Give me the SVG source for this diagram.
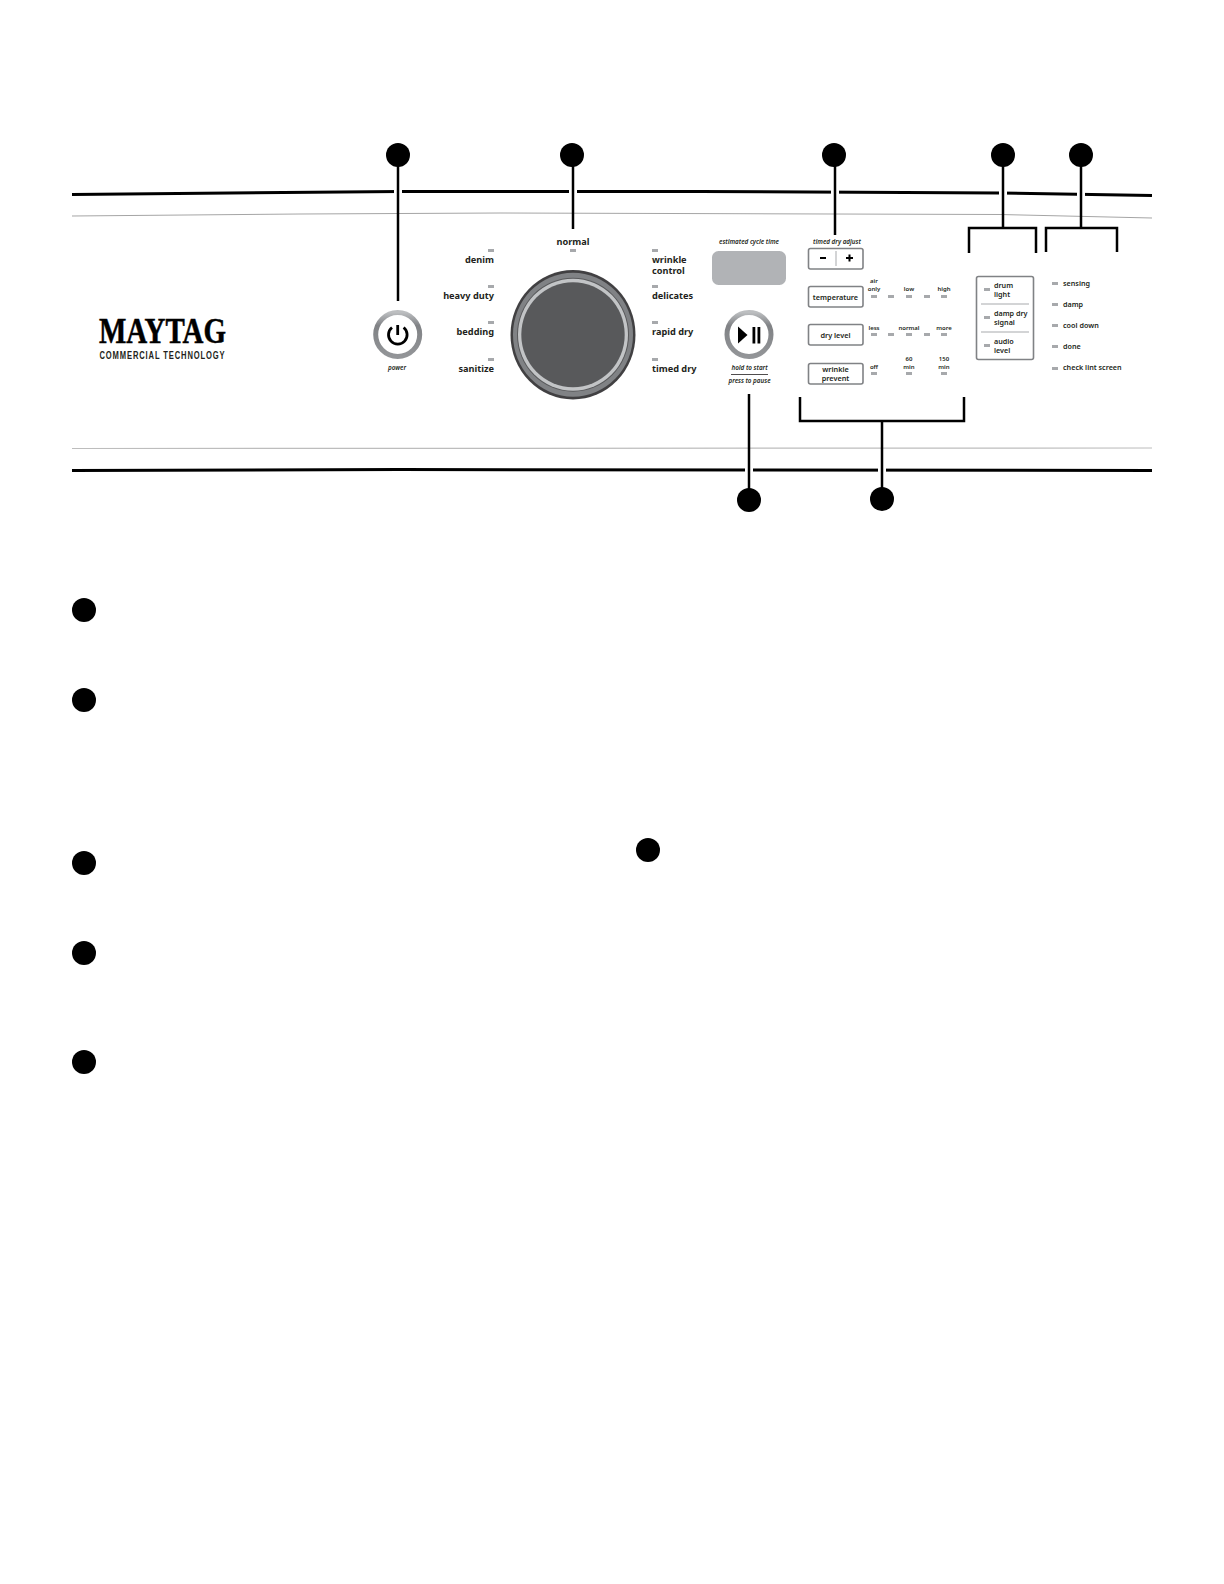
<svg xmlns="http://www.w3.org/2000/svg" width="1224" height="1584" viewBox="0 0 1224 1584">
<style>
text{font-family:"Noto Sans","Open Sans","Liberation Sans",sans-serif;fill:#231f20}
.p{font-size:9.2px;font-weight:700}
.s{font-size:7.3px;font-weight:600}
.t{font-size:6px;font-weight:600}
.o{font-size:7.2px;font-weight:600}
.i{font-size:6.3px;font-style:italic;font-weight:600;text-anchor:middle}
.m{text-anchor:middle}
.e{text-anchor:end}
.led{fill:#a7a9ac}
.btn{fill:#fff;stroke:#808285;stroke-width:1.6}
.lead{fill:none;stroke:#000;stroke-width:2.5}
.gap{fill:none;stroke:#fff;stroke-width:8}
.dot{fill:#000}
</style>
<defs>
<linearGradient id="ring" x1="0" y1="0" x2="0" y2="1"><stop offset="0" stop-color="#bcbec0"/><stop offset=".3" stop-color="#808285"/><stop offset="1" stop-color="#939598"/></linearGradient>
</defs>
<g id="panel">
<path d="M72 194.500L400 191.500L700 191.500L1000 193L1152 195.500" fill="none" stroke="#000" stroke-width="3"/>
<path d="M72 216L300 214L500 213L1000 214.500L1152 218" fill="none" stroke="#a5a5a5" stroke-width="1"/>
<path d="M72 448.500L1152 448" fill="none" stroke="#bdbdbd" stroke-width="1.200"/>
<path d="M72 470.500L400 469.500L1152 470.500" fill="none" stroke="#000" stroke-width="3"/>
</g>
<g id="connectors">
<path class="gap" d="M398 186V198M573 186V198M835 186V198M1003 186V198M1081 186V198M749 465V475M882 465V475"/>
<path class="lead" d="M398 155V301"/>
<path class="lead" d="M573 155V229"/>
<path class="lead" d="M835 155V235"/>
<path class="lead" d="M1003 155V228M969 253V228H1036V253"/>
<path class="lead" d="M1081 155V228M1046 252V228H1117V252"/>
<path class="lead" d="M749 394V500"/>
<path class="lead" d="M882 499V421M800 397V421H964V397"/>
</g>
<g id="badges">
<circle class="dot" cx="398" cy="155" r="12"/>
<circle class="dot" cx="572" cy="155" r="12"/>
<circle class="dot" cx="834" cy="155" r="12"/>
<circle class="dot" cx="1003" cy="155" r="12"/>
<circle class="dot" cx="1081" cy="155" r="12"/>
<circle class="dot" cx="749" cy="500" r="12"/>
<circle class="dot" cx="882" cy="499" r="12"/>
<circle class="dot" cx="84" cy="610" r="12"/>
<circle class="dot" cx="84" cy="700" r="12"/>
<circle class="dot" cx="84" cy="863" r="12"/>
<circle class="dot" cx="84" cy="953" r="12"/>
<circle class="dot" cx="84" cy="1062" r="12"/>
<circle class="dot" cx="648" cy="850" r="12"/>
</g>
<g id="logo">
<text x="99" y="343" textLength="127" lengthAdjust="spacingAndGlyphs" style="font-family:'Liberation Serif',serif;font-size:35px;font-weight:700;fill:#000;stroke:#000;stroke-width:.5">MAYTAG</text>
<text x="99.500" y="359" textLength="126" lengthAdjust="spacingAndGlyphs" style="font-family:'Liberation Sans',sans-serif;font-size:10.500px;font-weight:700;letter-spacing:1.200px">COMMERCIAL TECHNOLOGY</text>
</g>
<g id="power">
<circle cx="397.700" cy="334.500" r="22" fill="#fff" stroke="url(#ring)" stroke-width="5"/>
<path d="M392 327.500A9.300 9.300 0 1 0 403.600 327.500" fill="none" stroke="#000" stroke-width="2.800"/>
<path d="M397.700 325V335" stroke="#000" stroke-width="2.800"/>
<text class="i" x="397" y="370">power</text>
</g>
<g id="dial">
<ellipse cx="573" cy="334.700" rx="62.500" ry="64.700" fill="#414042"/>
<ellipse cx="573" cy="334.700" rx="60" ry="62" fill="#808285"/>
<ellipse cx="573" cy="334.700" rx="56" ry="57" fill="#58595b"/>
<ellipse cx="573" cy="334.700" rx="55" ry="56" fill="#c2c4c6"/>
<ellipse cx="573" cy="334.700" rx="51.700" ry="52.500" fill="#58595b"/>
</g>
<g id="cycles">
<g class="led">
<rect x="488" y="249" width="6" height="3"/><rect x="488" y="285" width="6" height="3"/><rect x="488" y="321" width="6" height="3"/><rect x="488" y="358" width="6" height="3"/>
<rect x="570" y="249" width="6" height="3"/>
<rect x="652" y="249" width="6" height="3"/><rect x="652" y="285" width="6" height="3"/><rect x="652" y="321" width="6" height="3"/><rect x="652" y="358" width="6" height="3"/>
</g>
<text class="p e" x="494" y="263">denim</text>
<text class="p e" x="494" y="299">heavy duty</text>
<text class="p e" x="494" y="335">bedding</text>
<text class="p e" x="494" y="372">sanitize</text>
<text class="p m" x="573" y="245">normal</text>
<text class="p" x="652" y="263">wrinkle</text>
<text class="p" x="652" y="274">control</text>
<text class="p" x="652" y="299">delicates</text>
<text class="p" x="652" y="335">rapid dry</text>
<text class="p" x="652" y="372">timed dry</text>
</g>
<g id="display">
<text class="i" x="749" y="244">estimated cycle time</text>
<rect x="712" y="251" width="74" height="34" rx="6.500" fill="#b1b3b6"/>
</g>
<g id="start">
<circle cx="749" cy="334.500" r="22" fill="#fff" stroke="url(#ring)" stroke-width="5"/>
<path d="M738 326.500L747.500 335L738 343.500Z" fill="#000"/>
<rect x="752.500" y="327" width="2.800" height="16.500" fill="#000"/>
<rect x="757.500" y="327" width="2.800" height="16.500" fill="#000"/>
<text class="i" x="749.500" y="370">hold to start</text>
<path d="M731 374.500H768" stroke="#231f20" stroke-width=".8"/>
<text class="i" x="749.500" y="383">press to pause</text>
</g>
<g id="timed-dry-adjust">
<text class="i" x="837" y="244">timed dry adjust</text>
<rect class="btn" x="808.500" y="248.500" width="54.500" height="20.500" rx="2"/>
<path d="M836 251V266" stroke="#a7a9ac" stroke-width="1"/>
<path d="M820 258H826M846 258H853M849.500 254.500V261.500" stroke="#000" stroke-width="2" fill="none"/>
</g>
<g id="temperature">
<rect class="btn" x="808.500" y="286.500" width="54.500" height="20.500" rx="2"/>
<text class="s m" x="835.500" y="299.500">temperature</text>
<g class="led"><rect x="871" y="295" width="6" height="3"/><rect x="888" y="295" width="6" height="3"/><rect x="906" y="295" width="6" height="3"/><rect x="924" y="295" width="6" height="3"/><rect x="941" y="295" width="6" height="3"/></g>
<text class="t m" x="874" y="283">air</text><text class="t m" x="874" y="291">only</text>
<text class="t m" x="909" y="291">low</text><text class="t m" x="944" y="291">high</text>
</g>
<g id="dry-level">
<rect class="btn" x="808.500" y="324.500" width="54.500" height="20.500" rx="2"/>
<text class="s m" x="835.500" y="338">dry level</text>
<g class="led"><rect x="871" y="333" width="6" height="3"/><rect x="888" y="333" width="6" height="3"/><rect x="906" y="333" width="6" height="3"/><rect x="924" y="333" width="6" height="3"/><rect x="941" y="333" width="6" height="3"/></g>
<text class="t m" x="874" y="329.500">less</text><text class="t m" x="909" y="329.500">normal</text><text class="t m" x="944" y="329.500">more</text>
</g>
<g id="wrinkle-prevent">
<rect class="btn" x="808.500" y="363.500" width="54.500" height="20.500" rx="2"/>
<text class="s m" x="835.500" y="371.500">wrinkle</text><text class="s m" x="835.500" y="380.500">prevent</text>
<g class="led"><rect x="871" y="372" width="6" height="3"/><rect x="906" y="372" width="6" height="3"/><rect x="941" y="372" width="6" height="3"/></g>
<text class="t m" x="874" y="368.500">off</text>
<text class="t m" x="909" y="361">60</text><text class="t m" x="909" y="368.500">min</text>
<text class="t m" x="944" y="361">150</text><text class="t m" x="944" y="368.500">min</text>
</g>
<g id="options">
<rect class="btn" x="976.500" y="276.500" width="57" height="83" rx="2"/>
<path d="M981 304H1029M981 332H1029" stroke="#a7a9ac" stroke-width="1"/>
<g class="led"><rect x="984" y="288" width="6" height="3"/><rect x="984" y="316" width="6" height="3"/><rect x="984" y="344" width="6" height="3"/></g>
<text class="o" x="994" y="288">drum</text><text class="o" x="994" y="297">light</text>
<text class="o" x="994" y="316">damp dry</text><text class="o" x="994" y="325">signal</text>
<text class="o" x="994" y="344">audio</text><text class="o" x="994" y="353">level</text>
</g>
<g id="status">
<g class="led"><rect x="1052" y="282" width="6" height="3"/><rect x="1052" y="303" width="6" height="3"/><rect x="1052" y="324" width="6" height="3"/><rect x="1052" y="345" width="6" height="3"/><rect x="1052" y="367" width="6" height="3"/></g>
<text class="o" x="1063" y="286">sensing</text>
<text class="o" x="1063" y="307">damp</text>
<text class="o" x="1063" y="328">cool down</text>
<text class="o" x="1063" y="349">done</text>
<text class="o" x="1063" y="370">check lint screen</text>
</g>
</svg>
